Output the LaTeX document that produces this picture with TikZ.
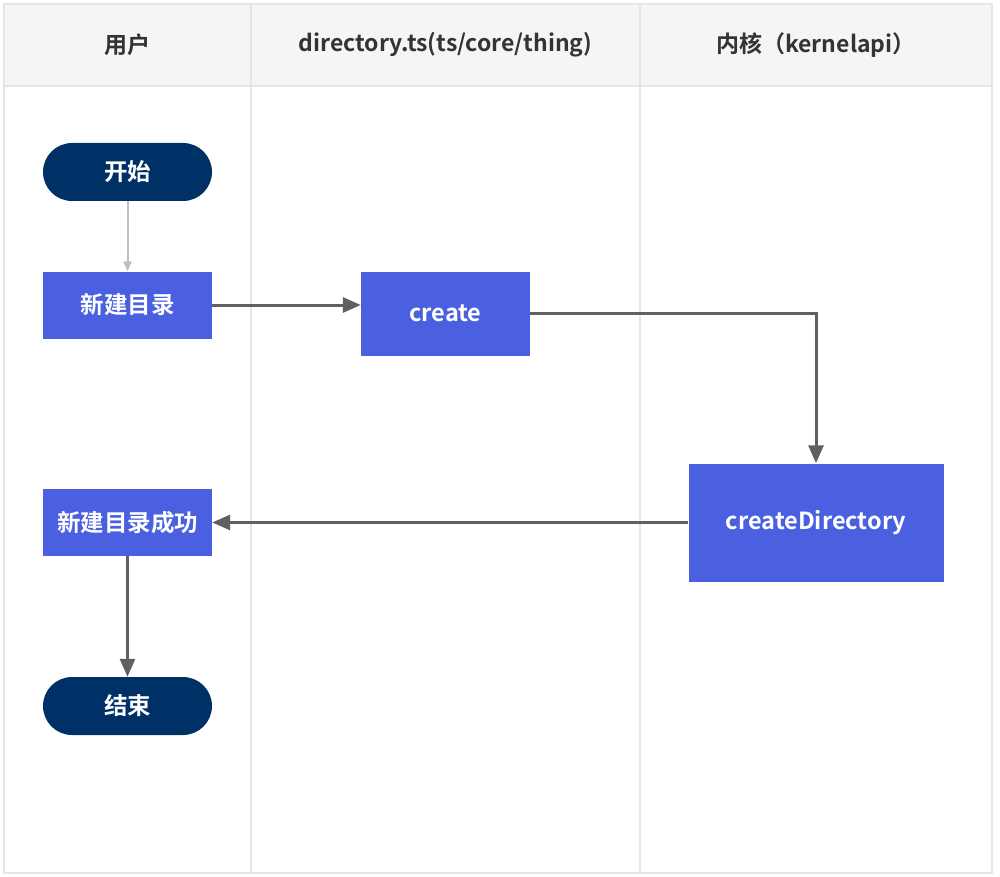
\documentclass[tikz,border=0pt]{standalone}
\usepackage{fontspec}
\setmainfont{Noto Sans CJK SC}[BoldFont={* Bold}]
\usetikzlibrary{arrows.meta,positioning,calc}
\definecolor{navy}{HTML}{003166}
\definecolor{blueb}{HTML}{4A60E0}
\definecolor{linec}{HTML}{606060}
\definecolor{headc}{HTML}{F4F5F5}
\definecolor{gridc}{HTML}{E3E5E6}
\tikzset{>={Triangle[width=15pt,length=18pt]}, line/.style={line width=3pt, color=linec},
lane/.style={draw=gridc, line width=1.2pt},
head/.style={font=\fontsize{23}{26}\selectfont\bfseries, text=black!80},
term/.style={fill=navy, rounded corners=29pt, minimum width=169pt, minimum height=58pt, text=white, font=\fontsize{23.5}{26}\selectfont\bfseries},
box/.style={fill=blueb, minimum width=169pt, text=white, font=\fontsize{23.5}{26}\selectfont\bfseries}}

\begin{document}
\begin{tikzpicture}[x=1pt,y=-1pt]
\useasboundingbox (0,0) rectangle (1000,877);
% lanes
\fill[headc] (4,4) rectangle (992,86);
\draw[lane] (4,4) rectangle (992,873);
\draw[lane] (4,86) -- (992,86);
\draw[lane] (251,4) -- (251,873);
\draw[lane] (640,4) -- (640,873);
\node[head] (hUser) at (127.5,45) {用户};
\node[head] (hDir) at (445.5,45) {directory.ts(ts/core/thing)};
\node[head] (hKern) at (816,45) {内核（kernelapi）};

% steps
\node[term] (start) at (127.5,172) {开始};
\node[box, minimum height=67pt] (mkdir) at (127.5,305) {新建目录};
\node[box, minimum height=84pt] (create) at (445.5,313.5) {create};
\node[box, minimum width=255pt, minimum height=118pt] (cdir) at (816,522.5) {createDirectory};
\node[box, minimum height=67pt] (done) at (127.5,522.5) {新建目录成功};
\node[term] (stop) at (127.5,706) {结束};

\draw[->, line width=2pt, color=black!25, >={Triangle[width=8pt,length=10pt]}] (start) -- (mkdir);
\draw[->,line] (mkdir.east) -- (create.west |- mkdir.east);
\draw[->,line] (create.east) -| (cdir.north);
\draw[->,line] (cdir.west) -- (done.east);
\draw[->,line] (done) -- (stop);
\end{tikzpicture}
\end{document}
